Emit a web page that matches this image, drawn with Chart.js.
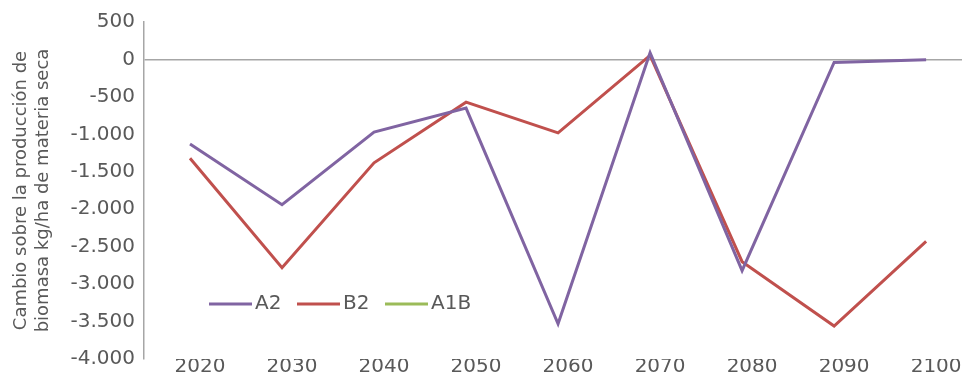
<!DOCTYPE html>
<html lang="es">
<head>
    <meta charset="UTF-8">
    <title>biomasa</title>
    <style>
        html, body { margin: 0; padding: 0; background: #fff; overflow: hidden; }
        #wrap { width: 962px; height: 376px; }
    </style>
</head>
<body>

<script src="https://cdn.jsdelivr.net/npm/chart.js"></script>

<div id="wrap"><canvas id="mycanvas"></canvas></div>

<script>
    // años (eje x)
    const years = [2020, 2030, 2040, 2050, 2060, 2070, 2080, 2090, 2100];
    // cambio en kg/ha de materia seca
    const serieA2 = [-1130, -1940, -970, -650, -3530, 90, -2820, -40, -5];
    const serieB2 = [-1320, -2780, -1380, -570, -980, 55, -2700, -3560, -2430];
    const serieA1B = [null, null, null, null, null, null, null, null, null]; // no se ve en el grafico
    const yTicks = [500, 0, -500, -1000, -1500, -2000, -2500, -3000, -3500, -4000];

    const gris = "#595959";
    const fuente = "'DejaVu Sans', sans-serif";

    function fmt(v){
        // formato español: -1.000
        const s = String(Math.abs(v)).replace(/\B(?=(\d{3})+(?!\d))/g, ".");
        return (v < 0 ? "-" : "") + s;
    }

    function puntos(arr){
        return arr.map(function(v, i){ return {x: years[i], y: v}; });
    }

    // leyenda dibujada dentro del area del grafico (abajo a la izquierda)
    const leyendaDentro = {
        id: "leyendaDentro",
        afterDraw(chart){
            const ctx = chart.ctx;
            const a = chart.chartArea;
            let x = a.left + 65;
            const y = 304;
            ctx.save();
            ctx.font = "20px " + fuente;
            ctx.textBaseline = "middle";
            chart.data.datasets.forEach(function(ds){
                ctx.strokeStyle = ds.borderColor;
                ctx.lineWidth = 3;
                ctx.beginPath();
                ctx.moveTo(x, y);
                ctx.lineTo(x + 43, y);
                ctx.stroke();
                ctx.fillStyle = gris;
                ctx.fillText(ds.label, x + 46, y);
                x += 88;
            });
            ctx.restore();
        }
    };

    const context = document.getElementById("mycanvas");
    new Chart(context, {
        type: "line",
        data: {
            datasets: [
                {label: "A2", data: puntos(serieA2), borderColor: "#8064a2", borderWidth: 3, pointRadius: 0, tension: 0},
                {label: "B2", data: puntos(serieB2), borderColor: "#c0504d", borderWidth: 3, pointRadius: 0, tension: 0},
                {label: "A1B", data: puntos(serieA1B), borderColor: "#9bbb59", borderWidth: 3, pointRadius: 0, tension: 0}
            ]
        },
        options: {
            responsive: true,
            maintainAspectRatio: false,
            animation: false,
            layout: {padding: {top: 22, right: 0, bottom: 0, left: 0}},
            plugins: {
                legend: {display: false},
                tooltip: {enabled: false}
            },
            scales: {
                x: {
                    type: "linear",
                    min: 2015,
                    max: 2103.9,
                    afterBuildTicks: function(axis){
                        axis.ticks = years.map(function(v){ return {value: v}; });
                    },
                    afterFit: function(axis){ axis.height = 16; },
                    grid: {display: false, drawTicks: false},
                    border: {display: false},
                    ticks: {
                        color: gris,
                        font: {family: fuente, size: 20, lineHeight: 0.8},
                        padding: 0,
                        labelOffset: 10,
                        maxRotation: 0,
                        autoSkip: false,
                        callback: function(v){ return String(v); }
                    }
                },
                y: {
                    min: -4000,
                    max: 500,
                    afterBuildTicks: function(axis){
                        axis.ticks = yTicks.map(function(v){ return {value: v}; });
                    },
                    afterFit: function(axis){ axis.width = 144; },
                    grid: {
                        drawTicks: false,
                        lineWidth: 1.5,
                        color: function(c){ return c.tick && c.tick.value === 0 ? "#a6a6a6" : "rgba(0,0,0,0)"; }
                    },
                    border: {display: true, color: "#a6a6a6", width: 1.5},
                    ticks: {
                        color: gris,
                        font: {family: fuente, size: 20, lineHeight: 0.8},
                        padding: 9,
                        callback: function(v){ return fmt(v); }
                    },
                    title: {
                        display: true,
                        text: ["Cambio sobre la producción de", "biomasa kg/ha de materia seca"],
                        color: gris,
                        font: {family: fuente, size: 18, lineHeight: 1.2},
                        padding: {top: 11, bottom: 0}
                    }
                }
            }
        },
        plugins: [leyendaDentro]
    });
</script>

</body>
</html>
